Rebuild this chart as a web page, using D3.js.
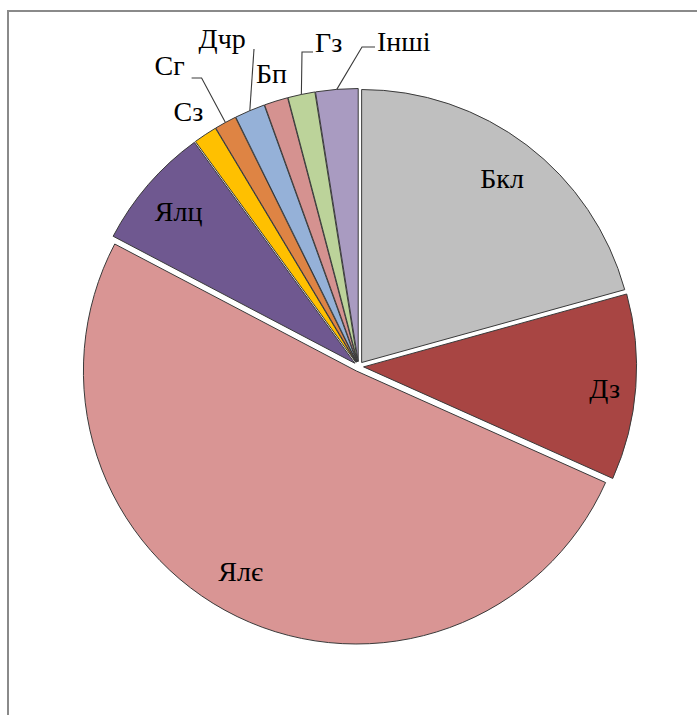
<!DOCTYPE html>
<html>
<head>
<meta charset="utf-8">
<script src="https://cdn.jsdelivr.net/npm/d3@7"></script>
<style>
  html, body { margin: 0; padding: 0; background: #fff; }
  svg { display: block; }
  text.lbl { font-family: "Liberation Serif", "Times New Roman", Times, serif; font-size: 28px; fill: #000; }
</style>
</head>
<body>
<script>
// Species composition, share of total (%)
const categories = ["Бкл", "Дз", "Ялє", "Ялц", "Сз", "Сг", "Дчр", "Бп", "Гз", "Інші"];
const shares     = [20.7, 11.0, 51.0, 7.3, 1.4, 1.3, 1.8, 1.4, 1.6, 2.5];
const colors     = ["#BFBFBF", "#A84543", "#D99594", "#6F5890", "#FFC000",
                    "#DE8444", "#95B1D8", "#D59290", "#BCD39A", "#A99BC1"];

const W = 697, H = 715;
const cx = 358.6, cy = 366.5, R = 273, explode = 5;

// Label placement: inside labels in polar form (deg from 12 o'clock, radius),
// outside labels as text anchor offsets from the pie centre, with leader elbows.
const inside = {
  "Бкл": { a: null, r: 237 },
  "Дз":  { a: 95,   r: 247 },
  "Ялє": { a: 210,  r: 236 },
  "Ялц": { a: null, r: 238 }
};
const outside = {
  "Сз":   { x: -185,  y: -246 },
  "Сг":   { x: -204,  y: -291.5, leader: [[-157, -288.5], [-167, -288.5]] },
  "Дчр":  { x: -160,  y: -318.5, leader: [[-104.6, -317.5]] },
  "Бп":   { x: -102.6, y: -283.5 },
  "Гз":   { x: -43.6, y: -314.5, leader: [[-56.6, -314.5], [-45.6, -314.5]] },
  "Інші": { x: 18.4,  y: -315.5, leader: [[3.4, -319.5], [16.4, -319.5]] }
};

const data = categories.map((c, i) => ({ name: c, value: shares[i], color: colors[i] }));

const svg = d3.select("body").append("svg")
  .attr("width", W).attr("height", H);

// Chart frame
svg.append("rect")
  .attr("x", 8).attr("y", 11)
  .attr("width", W + 20).attr("height", H + 20)
  .attr("fill", "#fff")
  .attr("stroke", "#8a8a8a")
  .attr("stroke-width", 2);

const pie = d3.pie().sort(null).value(d => d.value).startAngle(0).endAngle(2 * Math.PI);
const arc = d3.arc().innerRadius(0).outerRadius(R);
const arcs = pie(data);

const mid = d => (d.startAngle + d.endAngle) / 2;
const polar = (ang, r) => [r * Math.sin(ang), -r * Math.cos(ang)];

const g = svg.append("g").attr("transform", `translate(${cx},${cy})`);

// Slices, each pushed out slightly along its bisector
g.selectAll("path.slice")
  .data(arcs)
  .join("path")
  .attr("class", "slice")
  .attr("d", arc)
  .attr("transform", d => {
    const [dx, dy] = polar(mid(d), explode);
    return `translate(${dx},${dy})`;
  })
  .attr("fill", d => d.data.color)
  .attr("stroke", "#3a3a3a")
  .attr("stroke-width", 1)
  .attr("stroke-linejoin", "round");

// Inside labels
arcs.filter(d => inside[d.data.name]).forEach(d => {
  const cfg = inside[d.data.name];
  const ang = cfg.a === null ? mid(d) : cfg.a * Math.PI / 180;
  const [x, y] = polar(ang, cfg.r);
  g.append("text")
    .attr("class", "lbl")
    .attr("x", x).attr("y", y)
    .attr("dy", "0.35em")
    .attr("text-anchor", "middle")
    .text(d.data.name);
});

// Outside labels with leader lines
arcs.filter(d => outside[d.data.name]).forEach(d => {
  const cfg = outside[d.data.name];
  if (cfg.leader) {
    const start = polar(mid(d), R + explode);
    const pts = [start].concat(cfg.leader);
    g.append("path")
      .attr("d", d3.line()(pts))
      .attr("fill", "none")
      .attr("stroke", "#3a3a3a")
      .attr("stroke-width", 1.1);
  }
  g.append("text")
    .attr("class", "lbl")
    .attr("x", cfg.x).attr("y", cfg.y)
    .attr("text-anchor", "start")
    .text(d.data.name);
});
</script>
</body>
</html>
